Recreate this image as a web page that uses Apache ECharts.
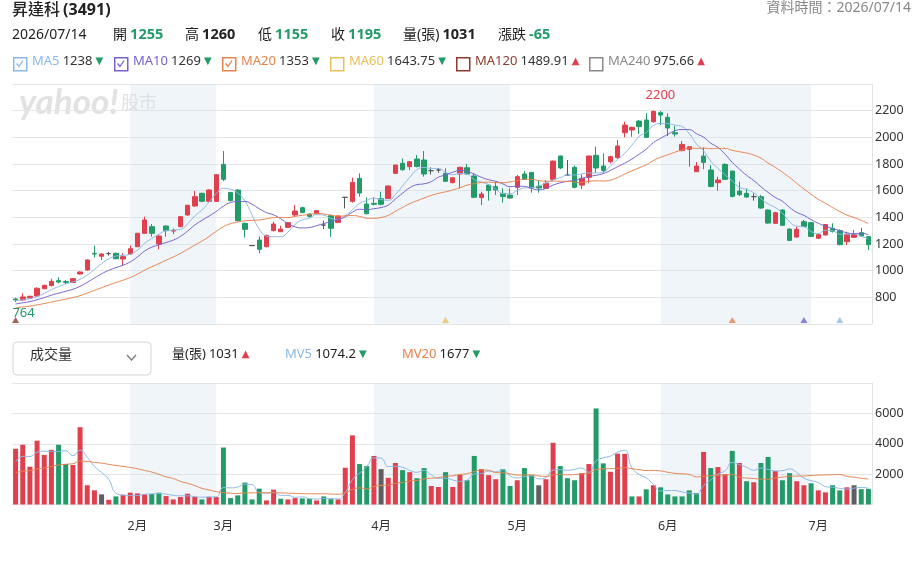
<!DOCTYPE html>
<html>
<head>
<meta charset="utf-8">
<title>昇達科 (3491)</title>
<script src="https://cdn.jsdelivr.net/npm/echarts@6/dist/echarts.min.js"></script>
<style>
  html, body { margin: 0; padding: 0; background: #fff; }
  #chart { width: 917px; height: 566px; }
</style>
</head>
<body>
<div id="chart"></div>
<script>
const monthNames = ['2月', '3月', '4月', '5月', '6月', '7月']
const monthStarts = [17, 29, 51, 70, 91, 112]

const opens = [788, 780, 795, 810, 865, 888, 925, 918, 912, 975, 1005, 1130, 1108, 1128, 1130, 1087, 1125, 1180, 1280, 1330,
  1200, 1335, 1297, 1330, 1418, 1485, 1580, 1520, 1520, 1797, 1587, 1605, 1355, 1188, 1230, 1180, 1300, 1292, 1325, 1417,
  1472, 1425, 1427, 1342, 1412, 1362, 1550, 1520, 1692, 1500, 1505, 1540, 1542, 1730, 1805, 1780, 1837, 1830, 1750, 1755,
  1730, 1660, 1725, 1772, 1710, 1548, 1642, 1630, 1580, 1567, 1625, 1725, 1737, 1635, 1617, 1685, 1860, 1717, 1775, 1642,
  1700, 1865, 1785, 1817, 1847, 2035, 2055, 2122, 2130, 2117, 2185, 2150, 2035, 1900, 1910, 1742, 1860, 1755, 1660, 1797,
  1747, 1597, 1580, 1555, 1555, 1455, 1355, 1455, 1312, 1252, 1367, 1360, 1243, 1268, 1317, 1300, 1217, 1250, 1285, 1255]
const highs = [796, 830, 812, 875, 895, 940, 950, 930, 945, 995, 1085, 1187, 1130, 1140, 1135, 1130, 1190, 1285, 1405, 1350,
  1265, 1340, 1317, 1410, 1495, 1597, 1585, 1610, 1725, 1897, 1590, 1610, 1360, 1190, 1255, 1270, 1367, 1337, 1365, 1492,
  1480, 1430, 1455, 1375, 1420, 1415, 1552, 1697, 1730, 1550, 1550, 1592, 1640, 1795, 1842, 1822, 1867, 1897, 1775, 1770,
  1767, 1700, 1780, 1800, 1730, 1592, 1645, 1667, 1617, 1617, 1717, 1747, 1740, 1680, 1680, 1825, 1862, 1830, 1787, 1722,
  1862, 1930, 1880, 1862, 1980, 2117, 2080, 2130, 2180, 2200, 2198, 2180, 2085, 1972, 1932, 1815, 1925, 1792, 1705, 1805,
  1750, 1667, 1617, 1580, 1567, 1460, 1442, 1460, 1317, 1330, 1380, 1362, 1275, 1346, 1355, 1310, 1292, 1305, 1322, 1260]
const lows = [764, 776, 790, 805, 860, 882, 905, 900, 908, 972, 1000, 1100, 1080, 1112, 1085, 1042, 1120, 1175, 1275, 1255,
  1160, 1255, 1275, 1325, 1410, 1480, 1515, 1515, 1515, 1672, 1520, 1370, 1247, 1186, 1130, 1175, 1295, 1290, 1320, 1412,
  1430, 1400, 1420, 1312, 1255, 1355, 1467, 1510, 1555, 1422, 1490, 1490, 1537, 1725, 1750, 1755, 1775, 1705, 1722, 1735,
  1665, 1655, 1617, 1720, 1545, 1492, 1525, 1567, 1510, 1540, 1567, 1680, 1585, 1585, 1612, 1675, 1762, 1715, 1617, 1612,
  1655, 1735, 1735, 1805, 1840, 2000, 2005, 2025, 1995, 2110, 2092, 2010, 2005, 1895, 1780, 1740, 1760, 1625, 1600, 1680,
  1550, 1560, 1548, 1525, 1465, 1352, 1352, 1335, 1222, 1248, 1328, 1255, 1240, 1262, 1285, 1190, 1192, 1245, 1255, 1155]
const closes = [781, 803, 808, 868, 890, 920, 915, 912, 940, 990, 1080, 1125, 1125, 1128, 1090, 1105, 1165, 1280, 1380, 1280,
  1260, 1300, 1303, 1405, 1490, 1555, 1520, 1605, 1720, 1685, 1525, 1375, 1310, 1188, 1160, 1265, 1350, 1312, 1360, 1447,
  1437, 1407, 1450, 1342, 1318, 1410, 1550, 1662, 1582, 1427, 1498, 1498, 1635, 1792, 1757, 1817, 1782, 1725, 1750, 1755,
  1670, 1697, 1775, 1725, 1550, 1575, 1600, 1605, 1557, 1545, 1705, 1687, 1620, 1620, 1655, 1822, 1770, 1717, 1625, 1692,
  1860, 1770, 1752, 1855, 1935, 2092, 2075, 2080, 2000, 2195, 2167, 2070, 2025, 1947, 1930, 1785, 1812, 1632, 1680, 1685,
  1557, 1570, 1552, 1555, 1470, 1357, 1435, 1340, 1227, 1310, 1332, 1257, 1270, 1346, 1295, 1195, 1270, 1270, 1260, 1195]
const volumes = [3667, 3933, 2489, 4200, 3267, 3600, 3933, 2667, 2600, 5089, 1267, 933, 667, 311, 533, 644, 778, 733, 667, 689,
  778, 555, 333, 489, 711, 511, 333, 489, 489, 3750, 422, 600, 1444, 333, 1044, 267, 978, 378, 333, 422,
  400, 378, 267, 533, 355, 333, 2420, 4551, 2664, 2531, 3197, 2331, 1754, 2731, 2264, 2131, 1732, 2398, 1221, 1154,
  2131, 1154, 1954, 1598, 3197, 2331, 1931, 1665, 2331, 1221, 1598, 2398, 1931, 1265, 1665, 4063, 2531, 1732, 1598, 2065,
  2664, 6327, 2708, 2153, 3352, 3330, 533, 533, 1000, 1265, 1132, 666, 533, 533, 932, 755, 3463, 2398, 2464, 1998,
  3530, 2731, 1532, 1465, 2731, 3130, 2198, 1598, 2065, 1532, 1265, 1399, 932, 800, 1265, 932, 1132, 1265, 1011, 1031]

// days before the first visible one, only used to seed the moving averages
const priorCloses = [680, 684, 688, 690, 693, 696, 698, 701, 703, 707, 712, 718, 725, 732, 738, 765, 772, 787, 770]
const priorVolumes = [1900, 1700, 2100, 1800, 1600, 2000, 1750, 1900, 1650, 1850, 2000, 1700, 1950, 1900, 2000, 2100, 2500, 2800, 2933]

const maPeriods = [5, 10, 20, 60, 120, 240]
const maShown = [true, true, true, false, false, false]
const maLast = ['1238', '1269', '1353', '1643.75', '1489.91', '975.66']
const maRising = [false, false, false, false, true, true]

const quoteDate = '2026/07/14'
const quoteLabels = ['開', '高', '低', '收', '量(張)', '漲跌']
const quoteValues = [1255, 1260, 1155, 1195, 1031, -65]

const volHeaderNames = ['量(張)', 'MV5', 'MV20']
const volHeaderValues = ['1031', '1074.2', '1677']
const volHeaderRising = [true, false, false]

const RED = '#e0404e'
const GREEN = '#239b68'
const FLAT = '#5f5f5f'
const MA_COLORS = ['#8cb8e6', '#7562cf', '#e5834f', '#e8c05a', '#8c3b2c', '#8a8a8a']
const MV_COLORS = ['#8cb8e6', '#e5834f']
const FONT = '"Noto Sans", "Noto Sans CJK TC", sans-serif'

function movingAvg(period, series, prior) {
  let all = prior.concat(series)
  let off = prior.length
  return series.map((_, i) => {
    let s = 0
    for (let k = 0; k < period; k++) s += all[off + i - k]
    return +(s / period).toFixed(2)
  })
}

let xs = closes.map((_, i) => String(i))
let candles = opens.map((o, i) => [o, closes[i], lows[i], highs[i]])
let prevClose = priorCloses[priorCloses.length - 1]
let volData = volumes.map((v, i) => {
  let pc = i === 0 ? prevClose : closes[i - 1]
  let c = closes[i] > pc ? RED : (closes[i] < pc ? GREEN : FLAT)
  return { value: v, itemStyle: { color: c } }
})

// shaded months: Feb, Apr, Jun
let bands = [[0, 1], [2, 3], [4, 5]].map(p => [
  { xAxis: monthStarts[p[0]] - 1 }, { xAxis: monthStarts[p[1]] - 1 }
])
let bandStyle = { color: 'rgba(205, 222, 240, 0.3)' }

// triangles: first day inside each MA window
let signals = []
maPeriods.forEach((p, k) => {
  let idx = closes.length - p
  if (idx >= 0) signals.push({ value: [idx, 600], itemStyle: { color: MA_COLORS[k] } })
})

// header graphics
let graphics = []
function txt(left, top, text, rich, extra) {
  graphics.push(Object.assign({
    type: 'text', left: left, top: top, z: 10,
    style: { text: text, rich: rich, fontFamily: FONT }
  }, extra || {}))
}
const arrow = {
  up: { fill: RED, fontSize: 10, fontFamily: 'DejaVu Sans' },
  dn: { fill: GREEN, fontSize: 10, fontFamily: 'DejaVu Sans' }
}

txt(12, 2, '{a|昇達科} {b|(3491)}', {
  a: { fontSize: 16, fontWeight: 500, fill: '#222', fontFamily: FONT },
  b: { fontSize: 16, fontWeight: 'bold', fill: '#222', fontFamily: FONT }
})
txt(null, 1, '{a|資料時間：' + quoteDate + '}', {
  a: { fontSize: 14, fill: '#888', fontFamily: FONT }
}, { right: 6 })

txt(12, 28, '{a|' + quoteDate + '}', { a: { fontSize: 14, fill: '#222', fontFamily: FONT } })
let quoteX = [113, 185, 258, 331, 403, 498]
let refClose = closes[closes.length - 2]
quoteLabels.forEach((l, i) => {
  let v = quoteValues[i]
  let col = '#222'
  if (i < 4) col = v > refClose ? RED : (v < refClose ? GREEN : '#222')
  if (i === 5) col = v > 0 ? RED : (v < 0 ? GREEN : '#222')
  txt(quoteX[i], 28, '{l|' + l + '} {v|' + v + '}', {
    l: { fontSize: 14, fill: '#222', fontFamily: FONT },
    v: { fontSize: 14.5, fontWeight: 'bold', fill: col, fontFamily: FONT }
  })
})

let boxX = [13, 114, 222, 330, 456, 589]
maPeriods.forEach((p, k) => {
  let x = boxX[k]
  graphics.push({
    type: 'rect', left: x, top: 57, z: 10,
    shape: { width: 13, height: 13 },
    style: { fill: '#fff', stroke: MA_COLORS[k], lineWidth: 1.5 }
  })
  if (maShown[k]) {
    graphics.push({
      type: 'polyline', z: 11,
      shape: { points: [[x + 3.5, 63.5], [x + 6, 66.5], [x + 10, 60.5]] },
      style: { stroke: MA_COLORS[k], lineWidth: 1.3, fill: null }
    })
  }
  txt(x + 19, 55, '{n|MA' + p + '} {v|' + maLast[k] + '} {' + (maRising[k] ? 'up' : 'dn') + '|' + (maRising[k] ? '▲' : '▼') + '}', {
    n: { fontSize: 13, fill: MA_COLORS[k], fontFamily: FONT },
    v: { fontSize: 13, fill: '#333', fontFamily: FONT },
    up: arrow.up, dn: arrow.dn
  })
})

// volume header with the dropdown box
graphics.push({
  type: 'rect', left: 12.5, top: 341.5, z: 10,
  shape: { width: 138, height: 33, r: 4 },
  style: { fill: '#fff', stroke: '#d6d6d6', lineWidth: 1 }
})
txt(30, 348, '{a|成交量}', { a: { fontSize: 14, fill: '#333', fontFamily: FONT } })
graphics.push({
  type: 'polyline', z: 11,
  shape: { points: [[127, 355], [131.5, 360], [136, 355]] },
  style: { stroke: '#777', lineWidth: 1.2, fill: null }
})
let volHeadX = [172, 285, 402]
volHeaderNames.forEach((n, k) => {
  let nameCol = k === 0 ? '#222' : MV_COLORS[k - 1]
  txt(volHeadX[k], 348, '{n|' + n + '} {v|' + volHeaderValues[k] + '} {' + (volHeaderRising[k] ? 'up' : 'dn') + '|' + (volHeaderRising[k] ? '▲' : '▼') + '}', {
    n: { fontSize: 13, fill: nameCol, fontFamily: FONT },
    v: { fontSize: 13, fill: '#222', fontFamily: FONT },
    up: arrow.up, dn: arrow.dn
  })
})

// watermark
graphics.push({
  type: 'text', left: 19, top: 85, z: -1,
  style: { text: 'yahoo!', fontFamily: 'Lato', fontWeight: 'bold', fontStyle: 'italic', fontSize: 35, fill: '#e2e2e2' }
})
graphics.push({
  type: 'text', left: 121, top: 93, z: -1,
  style: { text: '股市', fontFamily: '"Noto Sans CJK TC"', fontSize: 18, fill: '#e2e2e2' }
})

let myChart = echarts.init(document.getElementById('chart'))
let axisLabelStyle = { color: '#333', fontSize: 12.5, fontFamily: FONT, margin: 3, formatter: (v) => String(v) }
let series = [
  {
    name: 'K',
    type: 'candlestick',
    xAxisIndex: 0,
    yAxisIndex: 0,
    data: candles,
    barWidth: 5,
    itemStyle: {
      color: RED, color0: GREEN,
      borderColor: RED, borderColor0: GREEN,
      borderColorDoji: '#555', borderWidth: 1
    },
    markArea: { silent: true, itemStyle: bandStyle, data: bands },
    markPoint: {
      symbol: 'circle',
      symbolSize: 1,
      itemStyle: { color: 'rgba(0,0,0,0)' },
      data: [
        { type: 'max', valueDim: 'highest', label: { position: 'top', distance: 8, offset: [7, 0], color: RED, fontSize: 13, fontFamily: FONT } },
        { type: 'min', valueDim: 'lowest', label: { position: 'bottom', distance: 4, offset: [8, 0], color: GREEN, fontSize: 13, fontFamily: FONT } }
      ]
    }
  }
]
maPeriods.forEach((p, k) => {
  if (!maShown[k]) return
  series.push({
    name: 'MA' + p,
    type: 'line',
    data: movingAvg(p, closes, priorCloses),
    smooth: true,
    showSymbol: false,
    lineStyle: { width: 1, color: MA_COLORS[k] }
  })
})
series.push({
  name: 'signal',
  type: 'scatter',
  data: signals,
  symbol: 'triangle',
  symbolSize: [7, 6],
  symbolOffset: [0, -4],
  z: 5
})
series.push({
  name: '量',
  type: 'bar',
  xAxisIndex: 1,
  yAxisIndex: 1,
  data: volData,
  barWidth: 5
})
;[5, 20].forEach((p, k) => {
  let s = {
    name: 'MV' + p,
    type: 'line',
    xAxisIndex: 1,
    yAxisIndex: 1,
    data: movingAvg(p, volumes, priorVolumes),
    smooth: true,
    showSymbol: false,
    lineStyle: { width: 1, color: MV_COLORS[k] }
  }
  if (k === 0) s.markArea = { silent: true, itemStyle: bandStyle, data: bands }
  series.push(s)
})

myChart.setOption({
  animation: false,
  graphic: graphics,
  grid: [
    { left: 12, right: 45, top: 84, height: 240 },
    { left: 12, right: 45, top: 383, height: 121.5 }
  ],
  xAxis: [
    {
      type: 'category', gridIndex: 0, data: xs, boundaryGap: true,
      axisLine: { show: false }, axisTick: { show: false }, axisLabel: { show: false }, splitLine: { show: false }
    },
    {
      type: 'category', gridIndex: 1, data: xs, boundaryGap: true,
      axisLine: { show: false }, axisTick: { show: false }, splitLine: { show: false },
      axisLabel: {
        color: '#333', fontSize: 12.5, fontFamily: FONT, margin: 16,
        interval: (index) => monthStarts.indexOf(index) >= 0,
        formatter: (value) => monthNames[monthStarts.indexOf(+value)] || ''
      }
    }
  ],
  yAxis: [
    {
      type: 'value', gridIndex: 0, position: 'right', min: 600, max: 2400, interval: 200,
      axisLine: { show: true, lineStyle: { color: '#e2e2e2' } }, axisTick: { show: false },
      splitLine: { lineStyle: { color: '#e6e6e6' } },
      axisLabel: Object.assign({ showMinLabel: false, showMaxLabel: false }, axisLabelStyle)
    },
    {
      type: 'value', gridIndex: 1, position: 'right', min: 0, max: 8000, interval: 2000,
      axisLine: { show: true, lineStyle: { color: '#e2e2e2' } }, axisTick: { show: false },
      splitLine: { lineStyle: { color: '#e6e6e6' } },
      axisLabel: Object.assign({ showMinLabel: false, showMaxLabel: false }, axisLabelStyle)
    }
  ],
  series: series
})
</script>
</body>
</html>
